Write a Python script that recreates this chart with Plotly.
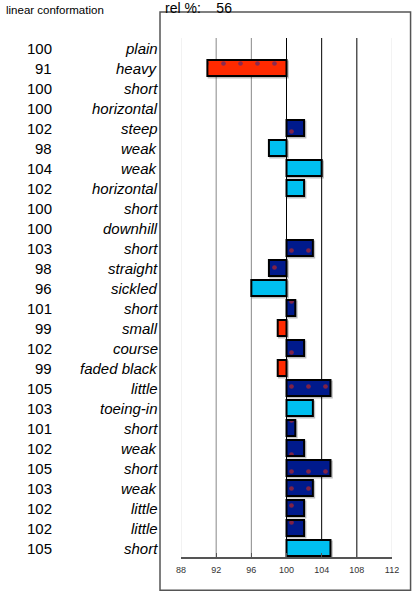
import plotly.graph_objects as go

labels = ["plain", "heavy", "short", "horizontal", "steep", "weak", "weak", "horizontal",
          "short", "downhill", "short", "straight", "sickled", "short", "small", "course",
          "faded black", "little", "toeing-in", "short", "weak", "short", "weak", "little",
          "little", "short"]
values = [100, 91, 100, 100, 102, 98, 104, 102, 100, 100, 103, 98, 96, 101, 99, 102,
          99, 105, 103, 101, 102, 105, 103, 102, 102, 105]
groups = ["", "red", "", "", "navy", "cyan", "cyan", "cyan", "", "", "navy", "navy", "cyan",
          "navy", "red", "navy", "red", "navy", "cyan", "navy", "navy", "navy", "navy", "navy",
          "navy", "cyan"]
x_ticks = [88, 92, 96, 100, 104, 108, 112]
title_left = "linear conformation"
rel_pct = 56

styles = {
    "red": dict(color="#ff2a00", pattern=dict(shape=".", fgcolor="#1a2a9a", size=17, solidity=0.06)),
    "navy": dict(color="#001a8c", pattern=dict(shape=".", fgcolor="#ff2a00", size=17, solidity=0.06)),
    "cyan": dict(color="#00bff0"),
}

fig = go.Figure()
for g, st in styles.items():
    ys, xs = [], []
    for i, (v, gr) in enumerate(zip(values, groups)):
        if gr == g and v != 100:
            ys.append(i)
            xs.append(v - 100)
    # soft shadow behind the bars
    fig.add_trace(go.Bar(
        y=[y + 0.07 for y in ys], x=xs, base=[100.15] * len(xs), orientation="h", width=0.8,
        marker=dict(color="rgba(0,0,0,0)", line=dict(color="rgba(0,0,0,0.25)", width=2)),
        showlegend=False, hoverinfo="skip",
    ))
    fig.add_trace(go.Bar(
        y=ys, x=xs, base=100, orientation="h", width=0.8,
        marker=dict(line=dict(color="black", width=2), **st),
        showlegend=False, hoverinfo="skip",
    ))

# vertical grid lines
grid_col = {88: "#e6e6e6", 92: "#888888", 96: "#888888", 100: "black", 104: "black",
            108: "black", 112: "#e6e6e6"}
for t in x_ticks:
    fig.add_shape(type="line", xref="x", yref="paper", x0=t, x1=t, y0=0, y1=1,
                  line=dict(color=grid_col[t], width=1), layer="below")

# outer frame
fig.add_shape(type="rect", xref="paper", yref="paper", x0=-0.0995, x1=1.088,
              y0=-0.064, y1=1.05, line=dict(color="#555555", width=1.5))

for i, (v, lab) in enumerate(zip(values, labels)):
    fig.add_annotation(x=-0.602, y=i, xref="paper", yref="y", text=str(v),
                       showarrow=False, xanchor="right", font=dict(size=15, color="black"))
    fig.add_annotation(x=-0.1, y=i, xref="paper", yref="y", text="<i>" + lab + "</i>",
                       showarrow=False, xanchor="right", font=dict(size=15, color="black"))

fig.add_annotation(x=-0.84, y=1.054, xref="paper", yref="paper", text=title_left,
                   showarrow=False, xanchor="left", yanchor="middle",
                   font=dict(size=11.5, color="black"))
fig.add_annotation(x=-0.085, y=1.058, xref="paper", yref="paper",
                   text="rel %:&nbsp;&nbsp;&nbsp;&nbsp;" + str(rel_pct),
                   showarrow=False, xanchor="left", yanchor="middle",
                   font=dict(size=14, color="black"))

fig.update_layout(
    width=416, height=594,
    margin=dict(l=181, r=24, t=38, b=37),
    plot_bgcolor="white", paper_bgcolor="white",
    font=dict(family="Liberation Sans, Arial, sans-serif"),
    barmode="overlay",
    xaxis=dict(range=[88, 112], tickvals=x_ticks, showgrid=False, zeroline=False,
               showline=True, linecolor="#555555", linewidth=1.5, ticks="inside",
               ticklen=4, tickcolor="#555555", ticklabelstandoff=3,
               tickfont=dict(size=9, color="#333333")),
    yaxis=dict(range=[25.45, -0.5], showticklabels=False,
               showgrid=False, zeroline=False, showline=False),
)

fig.write_html("out.html", config={"displayModeBar": False},
               post_script="document.body.style.margin='0';")
